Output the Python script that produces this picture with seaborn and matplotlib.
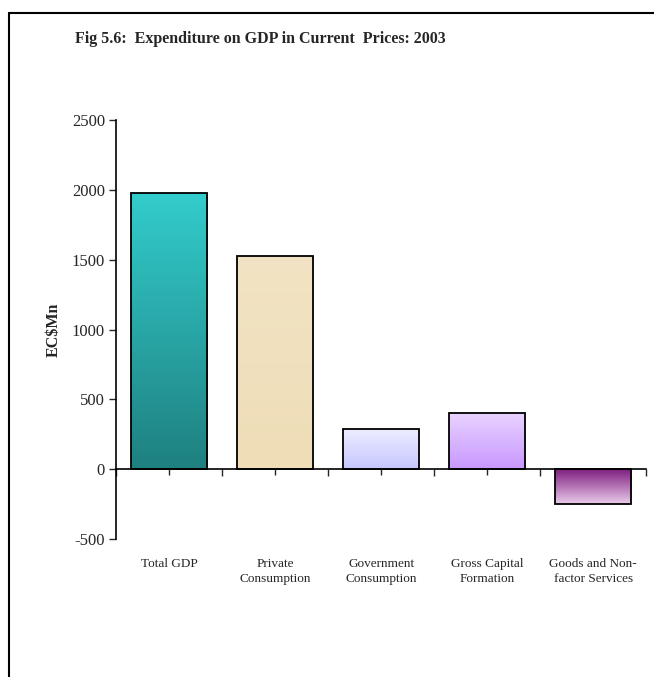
import numpy as np
import pandas as pd
import matplotlib
matplotlib.use("Agg")
import matplotlib.pyplot as plt
import matplotlib.colors as mcolors
from matplotlib.lines import Line2D
import seaborn as sns

# chart data
categories = ["Total GDP", "Private\nConsumption", "Government\nConsumption",
              "Gross Capital\nFormation", "Goods and Non-\nfactor Services"]
values = [1975, 1525, 290, 405, -250]

# gradient colours per bar (top, bottom)
grad_top = ["#33CCCC", "#F2E3C4", "#EEEEFF", "#E9D3FF", "#7E1E80"]
grad_bottom = ["#1F8080", "#EEDDB6", "#C6C6FF", "#C898FF", "#EACCEA"]

df = pd.DataFrame({"category": categories, "value": values})

sns.set_style("white")
plt.rcParams["font.family"] = ["Liberation Serif", "DejaVu Serif"]
plt.rcParams["axes.unicode_minus"] = False

fig = plt.figure(figsize=(6.54, 6.77), dpi=100)
ax = fig.add_axes([0.1774, 0.2038, 0.988 - 0.1774, 0.8227 - 0.2038])

sns.barplot(data=df, x="category", y="value", ax=ax, width=0.72,
            color="white", edgecolor="black", linewidth=1.3, saturation=1, zorder=3)

# gradient fills clipped to each bar
for patch, c1, c2 in zip(ax.patches, grad_top, grad_bottom):
    x0, y0 = patch.get_x(), patch.get_y()
    w, h = patch.get_width(), patch.get_height()
    lo, hi = min(y0, y0 + h), max(y0, y0 + h)
    cmap = mcolors.LinearSegmentedColormap.from_list("g", [c2, c1])
    grad = np.linspace(0, 1, 256).reshape(-1, 1)
    im = ax.imshow(grad, cmap=cmap, aspect="auto", origin="lower",
                   extent=[x0, x0 + w, lo, hi], zorder=2)
    im.set_clip_path(patch)
    patch.set_facecolor("none")

ax.set_xlim(-0.5, 4.5)
ax.set_ylim(-500, 2500)
ax.set_yticks(range(-500, 2501, 500))
ax.tick_params(axis="y", labelsize=12, length=5, width=1, direction="out",
               left=True, pad=3)

# x axis line sits at zero, category labels at the bottom of the plot
ax.spines["bottom"].set_position(("data", 0))
ax.spines["top"].set_visible(False)
ax.spines["right"].set_visible(False)
for s in ["bottom", "left"]:
    ax.spines[s].set_color("black")
    ax.spines[s].set_linewidth(1.2)
ax.set_xticks(np.arange(-0.5, 5, 1))
ax.set_xticks(np.arange(0, 5, 1), minor=True)
ax.tick_params(axis="x", which="major", length=5, width=1, direction="out",
               bottom=True, labelbottom=False)
ax.tick_params(axis="x", which="minor", length=4, width=1, direction="out",
               bottom=True)

sec = ax.secondary_xaxis(0)
sec.set_xticks(range(len(categories)))
sec.set_xticklabels(categories, fontsize=9.5, linespacing=1.3)
sec.tick_params(length=0, pad=14)
sec.spines["bottom"].set_visible(False)

ax.set_xlabel("")
ax.set_ylabel("EC$Mn", fontsize=11.5, fontweight="bold", labelpad=7)

fig.text(0.398, 0.943, "Fig 5.6:  Expenditure on GDP in Current  Prices: 2003",
         ha="center", va="center", fontsize=11.5, fontweight="bold")

# chart frame (left and top edges visible)
fig.add_artist(Line2D([0.013, 0.013], [0, 0.981], color="black", lw=1.5,
                      transform=fig.transFigure))
fig.add_artist(Line2D([0.013, 1.0], [0.981, 0.981], color="black", lw=1.5,
                      transform=fig.transFigure))

fig.savefig("out.png", dpi=100)
